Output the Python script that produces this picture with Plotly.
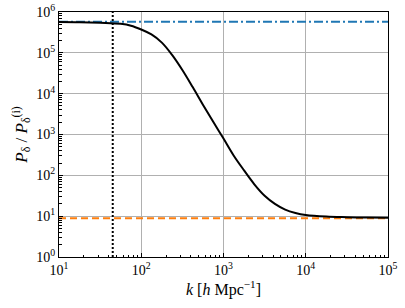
import plotly.graph_objects as go

# data
k_vals = [10, 17.8, 31.6, 56.2, 75.0, 100, 133, 178, 237, 316, 422, 562, 750, 1000,
          1334, 1778, 2371, 3162, 4217, 5623, 7499, 10000, 17783, 31623, 56234, 100000]
ratio_vals = [5.69e5, 5.62e5, 5.43e5, 5.13e5, 4.62e5, 3.72e5, 2.82e5, 1.78e5, 8.91e4,
              3.80e4, 1.45e4, 5370, 2040, 794, 302, 132, 60.3, 31.6, 20.0, 14.5, 12.0,
              10.7, 9.77, 9.44, 9.23, 9.12]
k_range = [10, 1e5]
high_level = 5.8e5
low_level = 8.9
k_mark = 45
y_range = [1, 1e6]

x_tickvals = [10, 100, 1000, 10000, 100000]
x_ticktext = ["10<sup>1</sup>", "10<sup>2</sup>", "10<sup>3</sup>", "10<sup>4</sup>", "10<sup>5</sup>"]
y_tickvals = [1, 10, 100, 1000, 10000, 100000, 1000000]
y_ticktext = ["10<sup>0</sup>", "10<sup>1</sup>", "10<sup>2</sup>", "10<sup>3</sup>",
              "10<sup>4</sup>", "10<sup>5</sup>", "10<sup>6</sup>"]

font_family = "Liberation Serif"

fig = go.Figure()
fig.add_trace(go.Scatter(x=k_range, y=[high_level, high_level], mode="lines",
                         line=dict(color="#1f77b4", width=2, dash="9px,3px,2px,3px"),
                         showlegend=False))
fig.add_trace(go.Scatter(x=k_range, y=[low_level, low_level], mode="lines",
                         line=dict(color="#ff7f0e", width=2, dash="7px,4px"),
                         showlegend=False))
fig.add_trace(go.Scatter(x=[k_mark, k_mark], y=y_range, mode="lines",
                         line=dict(color="black", width=2, dash="2px,2px"),
                         showlegend=False))
fig.add_trace(go.Scatter(x=k_vals, y=ratio_vals, mode="lines",
                         line=dict(color="black", width=2, shape="spline"),
                         showlegend=False))

axis_common = dict(
    type="log", tickmode="array",
    showgrid=True, gridcolor="#b0b0b0", gridwidth=0.8,
    showline=True, linecolor="black", linewidth=1, mirror=True,
    ticks="inside", ticklen=4, tickcolor="black", tickwidth=0.8,
    minor=dict(ticks="inside", ticklen=2.5, tickcolor="black", tickwidth=0.6,
               dtick="D1", showgrid=False),
    tickfont=dict(family=font_family, size=14, color="black"),
    zeroline=False,
)

fig.update_xaxes(range=[1, 5], tickvals=x_tickvals, ticktext=x_ticktext,
                 title=dict(text="<i>k</i> [<i>h</i> Mpc<sup>−1</sup>]",
                            font=dict(family=font_family, size=16, color="black"),
                            standoff=3),
                 **axis_common)
fig.update_yaxes(range=[0, 6], tickvals=y_tickvals, ticktext=y_ticktext,
                 title=dict(text="<i>P</i><sub>δ</sub> / <i>P</i><sub>δ</sub><sup>(i)</sup>",
                            font=dict(family=font_family, size=17, color="black"),
                            standoff=4),
                 **axis_common)

fig.update_layout(
    width=405, height=308,
    margin=dict(l=59, r=17, t=12, b=51, autoexpand=False),
    plot_bgcolor="white", paper_bgcolor="white",
    font=dict(family=font_family, color="black"),
)

fig.write_html("out.html", config={"displayModeBar": False},
               post_script="document.body.style.margin='0';")
